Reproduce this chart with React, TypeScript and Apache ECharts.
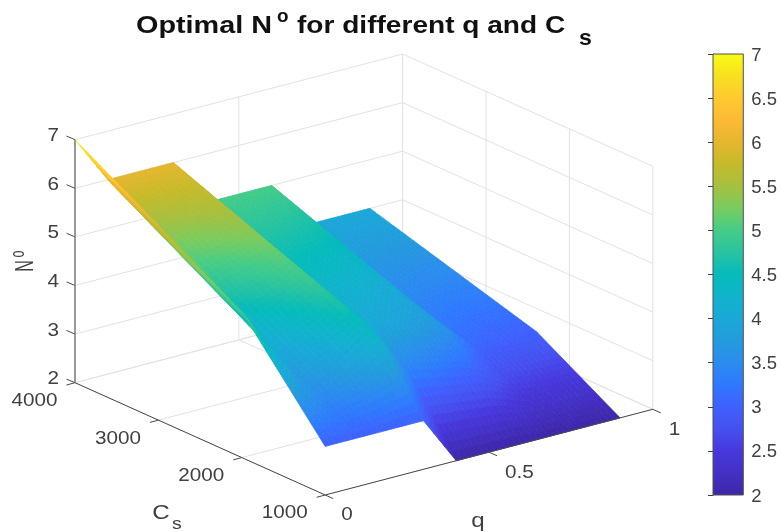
import React, { useEffect, useRef } from "react";
import * as echarts from "echarts";

const qValues = [0, 0.1, 0.2, 0.3, 0.4, 0.5, 0.6, 0.7, 0.8, 0.9];
const csValues = [1000, 1600, 2000, 3000, 4000];
const N_1000 = [3, 3, 3, 3, 2, 2, 2, 2, 2, 2];
const N_1600 = [4.2, 3.6, 3.9, 4.4, 3.4, 3.25, 3.1, 2.7, 2.6, 2.6];
const N_2000 = [5, 4, 4.3, 4.67, 4, 3.9, 3.7, 3.1, 3, 3];
const N_3000 = [6, 5, 5.15, 5.33, 4.5, 4.45, 4.35, 3.55, 3.5, 3.5];
const N_4000 = [7, 6, 6, 6, 5, 5, 5, 4, 4, 4];
const nRows = [N_1000, N_1600, N_2000, N_3000, N_4000];

const qTicks = [0, 0.5, 1];
const csTicks = [1000, 2000, 3000, 4000];
const zTicks = [2, 3, 4, 5, 6, 7];
const barTicks = [2, 2.5, 3, 3.5, 4, 4.5, 5, 5.5, 6, 6.5, 7];
const paletteLevels = [2, 2.25, 2.5, 2.75, 3, 3.25, 3.5, 3.75, 4, 4.25, 4.5, 4.75, 5, 5.25, 5.5, 5.75, 6, 6.25, 6.5, 6.75, 7];
const paletteColors = [
  "#3E26A8", "#4330C4", "#4738DC", "#4650F0", "#3F60FF", "#2F78FF", "#2B8CEF", "#239BDD",
  "#1AA8D8", "#10B3CC", "#05BBBB", "#28C3A0", "#45CC88", "#78CC60", "#A5C040", "#C4BB2A",
  "#E6B62E", "#FCBA35", "#FFC92F", "#F7E020", "#F9FB15",
];

const FONT = "Liberation Sans, Arial, sans-serif";
const TXT = "#404040";

function hex(c: string) {
  return [1, 3, 5].map((i) => parseInt(c.slice(i, i + 2), 16));
}
function colorOf(v: number) {
  const t = Math.max(0, Math.min(paletteLevels.length - 1.0001, (v - 2) / 0.25));
  const i = Math.floor(t);
  const a = hex(paletteColors[i]);
  const b = hex(paletteColors[i + 1]);
  const f = t - i;
  return `rgb(${a.map((x, k) => Math.round(x + (b[k] - x) * f)).join(",")})`;
}

// Orthographic view of the 3D box, expressed in the hidden pixel-scale axes.
const project = (q: number, cs: number, n: number): [number, number] => {
  const c = (cs - 1000) / 3000;
  return [325.2 + q * 327.6 - c * 250.2, 495 - q * 85.7 - c * 112.3 - (n - 2) * 48.6];
};

type Quad = { pts: [number, number][]; color: string };
// A height field seen from above is painted correctly from the far grid corner
// (high q, high Cs) to the near one.
function buildSurface(): Quad[] {
  const out: Quad[] = [];
  const subQ = 6;
  for (let r = csValues.length - 2; r >= 0; r--) {
    const span = csValues[r + 1] - csValues[r];
    const subC = Math.ceil(span / 60);
    for (let j = subC - 1; j >= 0; j--) {
      for (let c = qValues.length - 2; c >= 0; c--) {
        const at = (u: number, v: number) => {
          const n =
            nRows[r][c] * (1 - u) * (1 - v) +
            nRows[r][c + 1] * u * (1 - v) +
            nRows[r + 1][c] * (1 - u) * v +
            nRows[r + 1][c + 1] * u * v;
          return [qValues[c] + u * (qValues[c + 1] - qValues[c]), csValues[r] + v * span, n];
        };
        for (let i = subQ - 1; i >= 0; i--) {
          const corners = [
            at(i / subQ, j / subC),
            at((i + 1) / subQ, j / subC),
            at((i + 1) / subQ, (j + 1) / subC),
            at(i / subQ, (j + 1) / subC),
          ];
          const mean = corners.reduce((s, p) => s + p[2] / 4, 0);
          out.push({ pts: corners.map((p) => project(p[0], p[1], p[2])), color: colorOf(mean) });
        }
      }
    }
  }
  return out;
}

type Seg = { a: [number, number]; b: [number, number] };
function gridSegments(): Seg[] {
  const s: Seg[] = [];
  zTicks.forEach((z) => {
    s.push({ a: project(0, 4000, z), b: project(1, 4000, z) });
    s.push({ a: project(1, 4000, z), b: project(1, 1000, z) });
  });
  qTicks.forEach((q) => {
    if (q > 0) s.push({ a: project(q, 4000, 2), b: project(q, 4000, 7) });
    s.push({ a: project(q, 4000, 2), b: project(q, 1000, 2) });
  });
  csTicks.forEach((c) => {
    s.push({ a: project(1, c, 2), b: project(1, c, 7) });
    s.push({ a: project(0, c, 2), b: project(1, c, 2) });
  });
  return s;
}
function axisSegments(): Seg[] {
  const s: Seg[] = [
    { a: project(0, 4000, 2), b: project(0, 1000, 2) },
    { a: project(0, 1000, 2), b: project(1, 1000, 2) },
  ];
  csTicks.forEach((c) => {
    const p = project(0, c, 2);
    s.push({ a: p, b: [p[0] - 8.5, p[1] + 2.3] });
  });
  qTicks.forEach((q) => {
    const p = project(q, 1000, 2);
    s.push({ a: p, b: [p[0] + 8, p[1] + 3.6] });
  });
  zTicks.forEach((z) => {
    const p = project(0, 4000, z);
    s.push({ a: p, b: [p[0] - 8.5, p[1] - 3.6] });
  });
  return s;
}

const label = (text: string, x: number, y: number, extra: any = {}, styleExtra: any = {}) => ({
  type: "text",
  x,
  y,
  scaleX: 1.15,
  silent: true,
  ...extra,
  style: {
    text,
    fill: TXT,
    font: `18px ${FONT}`,
    textAlign: "center",
    textVerticalAlign: "middle",
    ...styleExtra,
  },
});

function textGraphics() {
  const bold = (t: string, x: number, y: number, size: number, sx: number) =>
    label(t, x, y, { scaleX: sx }, { font: `bold ${size}px ${FONT}`, fill: "#111111", textAlign: "left" });
  const items: any[] = [
    bold("Optimal N", 136, 25, 24, 1.2),
    bold("o", 277, 16, 18, 1.05),
    bold("for different q and C", 297, 25, 24, 1.17),
    bold("s", 579, 38, 22, 1.05),
  ];
  zTicks.forEach((z) => {
    const p = project(0, 4000, z);
    items.push(label(String(z), 59, p[1] - 5, {}, { textAlign: "right" }));
  });
  csTicks.forEach((c) => {
    const p = project(0, c, 2);
    items.push(label(String(c), p[0] - 40.5, p[1] + 17));
  });
  qTicks.forEach((q) => {
    const p = project(q, 1000, 2);
    items.push(label(String(q), p[0] + 16, p[1] + 19, {}, { textAlign: "left" }));
  });
  items.push(label("C", 161, 512, {}, { font: `21px ${FONT}` }));
  items.push(label("s", 177, 523, {}, { font: `17px ${FONT}` }));
  items.push(label("q", 478, 520, {}, { font: `21px ${FONT}` }));
  items.push(label("N", 24, 266, { rotation: Math.PI / 2, scaleX: 0.8, scaleY: 1.25 }, { font: `20px ${FONT}` }));
  items.push(label("o", 17, 254, { rotation: Math.PI / 2, scaleX: 0.9, scaleY: 1.4 }, { font: `14px ${FONT}` }));
  return items;
}

export default function App() {
  const ref = useRef<HTMLDivElement>(null);
  useEffect(() => {
    const chart = echarts.init(ref.current!, undefined, { renderer: "svg" });
    const surface = buildSurface();
    const grids = gridSegments();
    const axes = axisSegments();
    const lineItem = (segs: Seg[], color: string, width: number) => (params: any, api: any) => {
      const s = segs[params.dataIndex];
      const a = api.coord(s.a);
      const b = api.coord(s.b);
      return {
        type: "line",
        shape: { x1: a[0], y1: a[1], x2: b[0], y2: b[1] },
        style: { stroke: color, lineWidth: width, fill: "none" },
      };
    };
    chart.setOption({
      animation: false,
      backgroundColor: "#ffffff",
      grid: [
        { left: 0, top: 0, width: 780, height: 532, show: false },
        { left: 713, top: 54, width: 32, height: 441, show: false },
      ],
      xAxis: [
        { type: "value", gridIndex: 0, min: 0, max: 780, show: false },
        { type: "value", gridIndex: 1, min: 0, max: 1, show: false },
      ],
      yAxis: [
        { type: "value", gridIndex: 0, min: 0, max: 532, inverse: true, show: false },
        {
          type: "value",
          gridIndex: 1,
          min: 2,
          max: 7,
          interval: 0.5,
          position: "right",
          splitLine: { show: false },
          axisLine: { show: true, lineStyle: { color: "#404040", width: 1 } },
          axisTick: { show: true, inside: true, length: 5, lineStyle: { color: "#404040", width: 1 } },
          axisLabel: {
            show: true,
            margin: 8,
            color: TXT,
            fontSize: 18.5,
            fontFamily: FONT,
            formatter: (v: number) => (barTicks.includes(v) ? String(v) : ""),
          },
        },
      ],
      graphic: textGraphics(),
      series: [
        {
          type: "custom",
          xAxisIndex: 0,
          yAxisIndex: 0,
          z: 1,
          silent: true,
          clip: false,
          data: grids.map((_, i) => [i]),
          renderItem: lineItem(grids, "#E2E2E2", 1),
        },
        {
          type: "custom",
          xAxisIndex: 0,
          yAxisIndex: 0,
          z: 2,
          silent: true,
          clip: false,
          data: surface.map((_, i) => [i]),
          progressive: 0,
          renderItem: (params: any, api: any) => {
            const q = surface[params.dataIndex];
            return {
              type: "polygon",
              shape: { points: q.pts.map((p) => api.coord(p)) },
              style: { fill: q.color, stroke: q.color, lineWidth: 0.8 },
            };
          },
        },
        {
          type: "custom",
          xAxisIndex: 0,
          yAxisIndex: 0,
          z: 3,
          silent: true,
          clip: false,
          data: axes.map((_, i) => [i]),
          renderItem: lineItem(axes, "#4A4A4A", 1),
        },
        {
          type: "custom",
          xAxisIndex: 0,
          yAxisIndex: 0,
          z: 3,
          silent: true,
          clip: false,
          data: [[0]],
          renderItem: (_: any, api: any) => {
            const a = api.coord(project(0, 4000, 2));
            const b = api.coord(project(0, 4000, 7));
            return {
              type: "line",
              shape: { x1: a[0], y1: a[1], x2: b[0], y2: b[1] },
              style: { stroke: "#777777", lineWidth: 1.5 },
            };
          },
        },
        {
          type: "custom",
          xAxisIndex: 1,
          yAxisIndex: 1,
          z: 1,
          silent: true,
          data: [[0]],
          renderItem: (_: any, api: any) => {
            const a = api.coord([0, 7]);
            const b = api.coord([1, 2]);
            return {
              type: "rect",
              shape: { x: a[0], y: a[1], width: b[0] - a[0], height: b[1] - a[1] },
              style: {
                stroke: "#505050",
                lineWidth: 1,
                fill: new echarts.graphic.LinearGradient(
                  0, 1, 0, 0,
                  paletteLevels.map((l, i) => ({ offset: (l - 2) / 5, color: paletteColors[i] }))
                ),
              },
            };
          },
        },
      ],
    });
    return () => chart.dispose();
  }, []);
  return (
    <div
      ref={ref}
      style={{ position: "absolute", left: 0, top: 0, width: 780, height: 532, filter: "blur(0.45px)" }}
    />
  );
}
